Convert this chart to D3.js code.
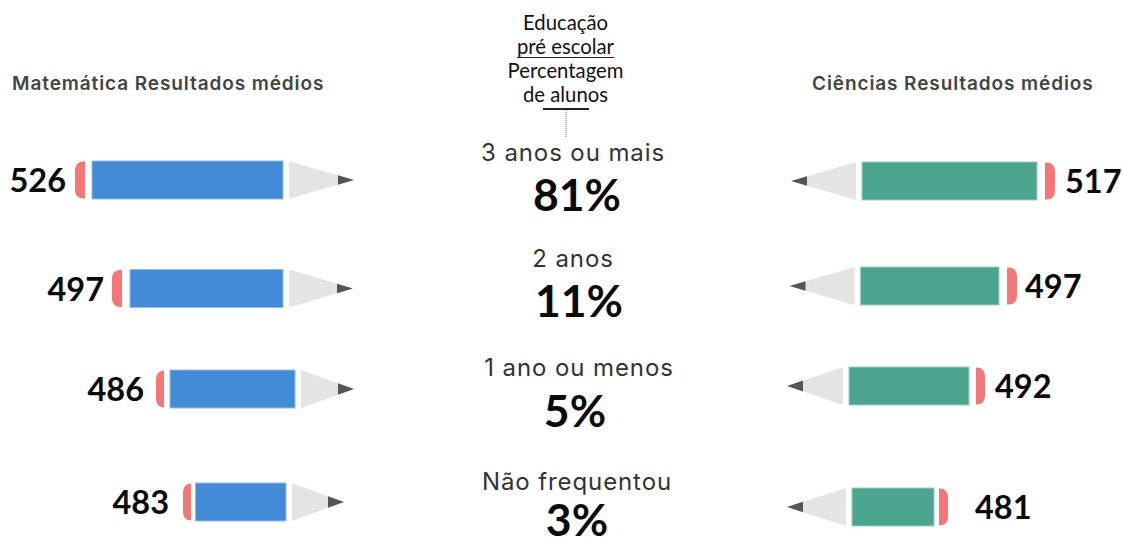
<!DOCTYPE html>
<html lang="pt">
<head>
    <meta charset="UTF-8" />
    <title>Educação pré escolar</title>
    <script src="https://d3js.org/d3.v7.min.js"></script>
    <style>
        html, body { margin: 0; padding: 0; background: #fff; overflow: hidden; }
        svg { display: block; }
        .num { font: 700 32.5px Lato, sans-serif; fill: #0a0a0a; }
        .share { font: 700 44.5px Lato, sans-serif; fill: #0a0a0a; text-anchor: middle; }
        .level { font: 400 24px Inter, sans-serif; fill: #333; text-anchor: middle; letter-spacing: 0.9px; }
        .head { font: 600 19px Inter, sans-serif; fill: #444; letter-spacing: 0.9px; }
        .title { font: 400 20.3px Lato, sans-serif; fill: #111; text-anchor: middle; }
    </style>
</head>
<body>
    <div id="chart"></div>
    <script>
// values
var levels = ["3 anos ou mais", "2 anos", "1 ano ou menos", "Não frequentou"];
var shares = [81, 11, 5, 3];
var mathValues = [526, 497, 486, 483];
var sciValues = [517, 497, 492, 481];
var titleLines = ["Educação", "pré escolar", "Percentagem", "de alunos"];
var mathTitle = "Matemática Resultados médios";
var sciTitle = "Ciências Resultados médios";

var width = 1123, height = 538;
var svg = d3.select("#chart").append("svg")
    .attr("width", width)
    .attr("height", height);

// the pencils in the original are hand placed, so the scales are piecewise
var mathLength = d3.scaleLinear().domain([483, 486, 497, 526]).range([90.5, 125, 153, 191]);
var sciLength = d3.scaleLinear().domain([481, 492, 497, 517]).range([82, 120, 138.5, 175]);
var mathRow = d3.scaleLinear().domain([0, 1, 2, 3]).range([180, 288.5, 389, 502]);
var sciRow = d3.scaleLinear().domain([0, 1, 2, 3]).range([181, 286, 386, 507]);

// per row layout, not data
var mathLayout = { base: [283, 283, 295, 286], cone: [65, 64, 53, 52], gap: [9, 8, 12, 14], eraser: [10, 10, 8, 8], slit: [7, 8, 6, 4.5] };
var sciLayout = { base: [862, 860.5, 849, 852], cone: [65, 65, 56, 59], gap: [10, 8, 10, 27], eraser: [10, 10, 9, 9], slit: [8, 8, 7, 5] };

var bodyHeight = 38;

// dir = 1 points right, dir = -1 points left
function drawPencils(values, lengthScale, rowScale, layout, color, edge, dir) {
    var g = svg.append("g");
    values.forEach(function(v, i) {
        var cy = rowScale(i), base = layout.base[i], len = lengthScale(v);
        var h = bodyHeight / 2;
        var coneStart = base + dir * 6, coneLen = layout.cone[i], tipLen = 16;
        var apex = coneStart + dir * coneLen;
        var tipH = h * tipLen / coneLen;

        // wood
        g.append("path")
            .attr("d", d3.line()([[coneStart, cy - h], [apex, cy], [coneStart, cy + h]]) + "Z")
            .attr("fill", "#e4e4e4");
        // lead
        g.append("path")
            .attr("d", d3.line()([[apex - dir * tipLen, cy - tipH], [apex, cy], [apex - dir * tipLen, cy + tipH]]) + "Z")
            .attr("fill", "#555");
        // body
        var bodyEnd = base - dir * len;
        g.append("rect")
            .attr("x", Math.min(base, bodyEnd))
            .attr("y", cy - h)
            .attr("width", len)
            .attr("height", bodyHeight)
            .attr("fill", color)
            .attr("stroke", edge)
            .attr("stroke-width", 1);
        // eraser, rounded on the outer side
        var inner = bodyEnd - dir * layout.slit[i], outer = inner - dir * layout.eraser[i];
        var r = 8, sweep = dir > 0 ? 0 : 1;
        g.append("path")
            .attr("d", "M" + inner + "," + (cy - h + 0.5) +
                "L" + (outer + dir * r) + "," + (cy - h + 0.5) +
                "A" + r + "," + r + " 0 0 " + sweep + " " + outer + "," + (cy - h + 0.5 + r) +
                "L" + outer + "," + (cy + h - 0.5 - r) +
                "A" + r + "," + r + " 0 0 " + sweep + " " + (outer + dir * r) + "," + (cy + h - 0.5) +
                "L" + inner + "," + (cy + h - 0.5) + "Z")
            .attr("fill", "#f47676");
        // value
        g.append("text")
            .attr("class", "num")
            .attr("x", outer - dir * layout.gap[i])
            .attr("y", cy + 12)
            .attr("text-anchor", dir > 0 ? "end" : "start")
            .text(v);
    });
}

drawPencils(mathValues, mathLength, mathRow, mathLayout, "#438bd6", "#8fbbe8", 1);
drawPencils(sciValues, sciLength, sciRow, sciLayout, "#4ca58f", "#9ccfc2", -1);

// column headings
svg.append("text").attr("class", "head").attr("x", 12).attr("y", 90).text(mathTitle);
svg.append("text").attr("class", "head").attr("x", 812).attr("y", 90).text(sciTitle);

// middle heading
var titleY = d3.scalePoint().domain(titleLines).range([30, 102]);
svg.selectAll(".title").data(titleLines).enter().append("text")
    .attr("class", "title")
    .attr("x", 565.5)
    .attr("y", function(d) { return titleY(d); })
    .text(function(d) { return d; });
svg.append("line").attr("x1", 517).attr("x2", 614).attr("y1", 57.5).attr("y2", 57.5)
    .attr("stroke", "#222").attr("stroke-width", 1);
svg.append("line").attr("x1", 543).attr("x2", 589).attr("y1", 109).attr("y2", 109)
    .attr("stroke", "#222").attr("stroke-width", 2);
svg.append("line").attr("x1", 566).attr("x2", 566).attr("y1", 110).attr("y2", 138)
    .attr("stroke", "#777").attr("stroke-width", 1).attr("stroke-dasharray", "1,1");

// middle column
var levelY = d3.scaleLinear().domain([0, 1, 2, 3]).range([161, 267, 376, 490]);
var shareY = d3.scaleLinear().domain([0, 1, 2, 3]).range([211, 317, 427, 536]);
var levelX = [573, 573, 579, 577];
var shareX = [577, 579, 575, 577];

levels.forEach(function(d, i) {
    svg.append("text").attr("class", "level")
        .attr("x", levelX[i]).attr("y", levelY(i)).text(d);
    svg.append("text").attr("class", "share")
        .attr("x", shareX[i]).attr("y", shareY(i)).text(shares[i] + "%");
});
    </script>
</body>
</html>
